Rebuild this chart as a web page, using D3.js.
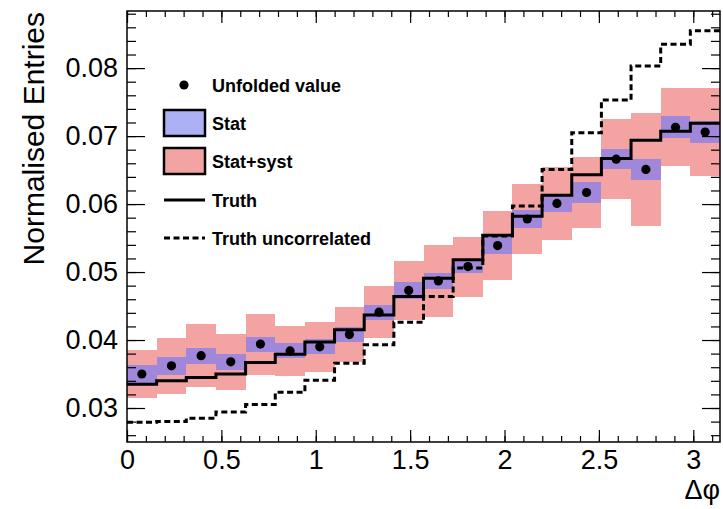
<!DOCTYPE html>
<html>
<head>
<meta charset="utf-8">
<script src="https://cdn.jsdelivr.net/npm/d3@7/dist/d3.min.js"></script>
<style>
  html, body { margin: 0; padding: 0; background: #fff; }
  svg { display: block; }
  text { font-family: "Liberation Sans", Arial, Helvetica, sans-serif; }
</style>
</head>
<body>
<svg id="chart" width="723" height="509"></svg>
<script>
// Δφ distribution: unfolded result with stat and stat+syst bands, compared with truth
const nBins = 20;
const xMax = Math.PI;

const unfolded = [0.0350, 0.0362, 0.0377, 0.0368, 0.0394, 0.0384, 0.0390, 0.0408, 0.0441, 0.0473,
                  0.0487, 0.0508, 0.0539, 0.0578, 0.0601, 0.0617, 0.0666, 0.0651, 0.0713, 0.0706];
const statErr  = [0.0013, 0.0013, 0.0012, 0.0012, 0.0011, 0.0011, 0.0011, 0.0011, 0.0011, 0.0012,
                  0.0012, 0.0010, 0.0012, 0.0013, 0.0013, 0.0015, 0.0015, 0.0016, 0.0016, 0.0016];
const totalErr = [0.0035, 0.0041, 0.0046, 0.0041, 0.0045, 0.0037, 0.0037, 0.0041, 0.0038, 0.0043,
                  0.0053, 0.0044, 0.0051, 0.0051, 0.0054, 0.0052, 0.0059, 0.0083, 0.0057, 0.0065];
const truth    = [0.0335, 0.0340, 0.0345, 0.0350, 0.0367, 0.0379, 0.0397, 0.0415, 0.0437, 0.0464,
                  0.0491, 0.0518, 0.0554, 0.0582, 0.0613, 0.0643, 0.0667, 0.0694, 0.0707, 0.0719];
const truthUncorr = [0.0279, 0.0280, 0.0285, 0.0294, 0.0305, 0.0323, 0.0341, 0.0366, 0.0393, 0.0426,
                     0.0464, 0.0506, 0.0553, 0.0597, 0.0651, 0.0705, 0.0753, 0.0803, 0.0835, 0.0855];

const xTicks = [0, 0.5, 1, 1.5, 2, 2.5, 3];
const yTicks = [0.03, 0.04, 0.05, 0.06, 0.07, 0.08];
const yDomain = [0.025, 0.0884];

const legendItems = [
  { kind: "marker", label: "Unfolded value" },
  { kind: "stat", label: "Stat" },
  { kind: "total", label: "Stat+syst" },
  { kind: "solid", label: "Truth" },
  { kind: "dashed", label: "Truth uncorrelated" }
];

const colTotal = "#f4a3a3";
const colStat = "#a087d9";
const colStatLegend = "#abb1f4";

const frame = { left: 127, right: 720, top: 11, bottom: 442 };
const svg = d3.select("#chart");

const x = d3.scaleLinear().domain([0, xMax]).range([frame.left, frame.right]);
const y = d3.scaleLinear().domain(yDomain).range([frame.bottom, frame.top]);

const binW = xMax / nBins;
const bins = unfolded.map((v, i) => ({
  lo: i * binW, hi: (i + 1) * binW, mid: (i + 0.5) * binW,
  v, stat: statErr[i], tot: totalErr[i]
}));

const plot = svg.append("g");

// stat+syst band
plot.selectAll("rect.total").data(bins).join("rect")
  .attr("x", d => x(d.lo)).attr("width", d => x(d.hi) - x(d.lo))
  .attr("y", d => y(d.v + d.tot)).attr("height", d => y(d.v - d.tot) - y(d.v + d.tot))
  .attr("fill", colTotal).attr("shape-rendering", "crispEdges");

// stat band
plot.selectAll("rect.stat").data(bins).join("rect")
  .attr("x", d => x(d.lo)).attr("width", d => x(d.hi) - x(d.lo))
  .attr("y", d => y(d.v + d.stat)).attr("height", d => y(d.v - d.stat) - y(d.v + d.stat))
  .attr("fill", colStat).attr("shape-rendering", "crispEdges");

// histogram step outlines
function stepPoints(vals) {
  const pts = vals.map((v, i) => [i * binW, v]);
  pts.push([xMax, vals[vals.length - 1]]);
  return pts;
}
const step = d3.line().x(d => x(d[0])).y(d => y(d[1])).curve(d3.curveStepAfter);

plot.append("path").attr("d", step(stepPoints(truthUncorr)))
  .attr("fill", "none").attr("stroke", "#000").attr("stroke-width", 3)
  .attr("stroke-dasharray", "6,3.5");

plot.append("path").attr("d", step(stepPoints(truth)))
  .attr("fill", "none").attr("stroke", "#000").attr("stroke-width", 3);

// unfolded points
plot.selectAll("circle.pt").data(bins).join("circle")
  .attr("cx", d => x(d.mid)).attr("cy", d => y(d.v)).attr("r", 4.6).attr("fill", "#000");

// axes: ticks drawn inward on all four sides
function minorValues(domain, step) {
  const out = [];
  for (let k = Math.ceil(domain[0] / step - 1e-9); k * step <= domain[1] + 1e-12; k++) out.push(+(k * step).toFixed(6));
  return out;
}
const xMinor = minorValues([0, xMax], 0.1);
const yMinor = minorValues(yDomain, 0.002);

function styleAxis(g) {
  g.select(".domain").remove();
  g.selectAll(".tick line").attr("stroke", "#000").attr("stroke-width", 1.2);
  g.selectAll("text").attr("font-size", 27).attr("fill", "#000")
    .attr("font-family", "'Liberation Sans', Arial, Helvetica, sans-serif");
}

// bottom
svg.append("g").attr("transform", `translate(0,${frame.bottom})`)
  .call(d3.axisBottom(x).tickValues(xMinor).tickSize(-6).tickFormat("")).call(styleAxis);
svg.append("g").attr("transform", `translate(0,${frame.bottom})`)
  .call(d3.axisBottom(x).tickValues(xTicks).tickSize(-12).tickPadding(10).tickFormat(d3.format("")))
  .call(styleAxis)
  .selectAll("text").attr("dy", "0.71em").attr("y", 8);
// top
svg.append("g").attr("transform", `translate(0,${frame.top})`)
  .call(d3.axisTop(x).tickValues(xMinor).tickSize(-6).tickFormat("")).call(styleAxis);
svg.append("g").attr("transform", `translate(0,${frame.top})`)
  .call(d3.axisTop(x).tickValues(xTicks).tickSize(-12).tickFormat("")).call(styleAxis);
// left
svg.append("g").attr("transform", `translate(${frame.left},0)`)
  .call(d3.axisLeft(y).tickValues(yMinor).tickSize(-9).tickFormat("")).call(styleAxis);
svg.append("g").attr("transform", `translate(${frame.left},0)`)
  .call(d3.axisLeft(y).tickValues(yTicks).tickSize(-18).tickPadding(9).tickFormat(d3.format(".2f")))
  .call(styleAxis);
// right
svg.append("g").attr("transform", `translate(${frame.right},0)`)
  .call(d3.axisRight(y).tickValues(yMinor).tickSize(-9).tickFormat("")).call(styleAxis);
svg.append("g").attr("transform", `translate(${frame.right},0)`)
  .call(d3.axisRight(y).tickValues(yTicks).tickSize(-18).tickFormat("")).call(styleAxis);

// frame
svg.append("rect")
  .attr("x", frame.left).attr("y", frame.top)
  .attr("width", frame.right - frame.left).attr("height", frame.bottom - frame.top)
  .attr("fill", "none").attr("stroke", "#000").attr("stroke-width", 1.5);

// axis titles
svg.append("text").attr("transform", "translate(44,12) rotate(-90)")
  .attr("text-anchor", "end").attr("font-size", 30).text("Normalised Entries");
svg.append("text").attr("x", 720).attr("y", 499)
  .attr("text-anchor", "end").attr("font-size", 27).text("Δφ");

// legend
const lg = svg.append("g");
const rowY = [85, 123, 161, 200, 238];
const boxX = 164, boxW = 41, boxH = 26, textX = 212;
legendItems.forEach((it, i) => {
  const cy = rowY[i];
  if (it.kind === "marker") {
    lg.append("circle").attr("cx", 184).attr("cy", cy).attr("r", 4.6).attr("fill", "#000");
  } else if (it.kind === "stat" || it.kind === "total") {
    lg.append("rect").attr("x", boxX).attr("y", cy - boxH / 2).attr("width", boxW).attr("height", boxH)
      .attr("fill", it.kind === "stat" ? colStatLegend : colTotal)
      .attr("stroke", "#000").attr("stroke-width", 2.5);
  } else {
    const ln = lg.append("line").attr("x1", boxX).attr("x2", boxX + boxW).attr("y1", cy).attr("y2", cy)
      .attr("stroke", "#000").attr("stroke-width", 3);
    if (it.kind === "dashed") ln.attr("stroke-dasharray", "6,3.5");
  }
  lg.append("text").attr("x", textX).attr("y", cy + 6.5)
    .attr("font-size", 18).attr("font-weight", "bold").text(it.label);
});
</script>
</body>
</html>
